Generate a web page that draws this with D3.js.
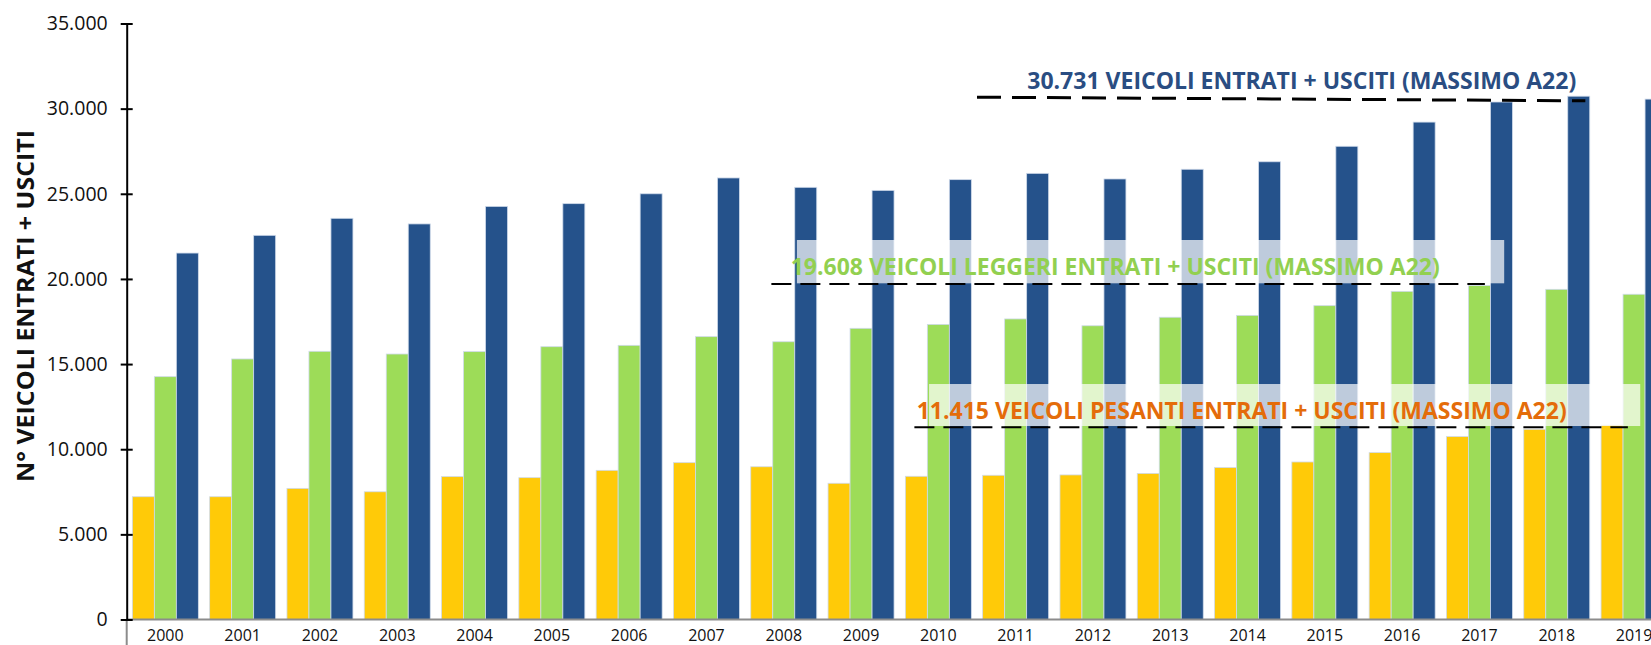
<!DOCTYPE html>
<html>
<head>
<meta charset="utf-8">
<script src="https://cdn.jsdelivr.net/npm/d3@7"></script>
<style>
  body { margin: 0; background: #fff; }
  svg { display: block; font-family: "Open Sans", "Liberation Sans", sans-serif; }
</style>
</head>
<body>
<svg id="chart"></svg>
<script>
// ---- data ----
var years = ["2000","2001","2002","2003","2004","2005","2006","2007","2008","2009",
             "2010","2011","2012","2013","2014","2015","2016","2017","2018","2019"];
var pesanti = [7210, 7210, 7700, 7500, 8390, 8330, 8760, 9210, 8970, 8000,
               8410, 8470, 8490, 8580, 8920, 9250, 9800, 10740, 11170, 11415];
var leggeri = [14260, 15300, 15750, 15590, 15730, 16020, 16100, 16610, 16310, 17100,
               17330, 17650, 17250, 17750, 17860, 18430, 19270, 19608, 19390, 19100];
var totali  = [21520, 22560, 23560, 23230, 24260, 24420, 25000, 25930, 25380, 25200,
               25830, 26200, 25870, 26440, 26880, 27790, 29210, 30390, 30731, 30560];
var yTicks = [0, 5000, 10000, 15000, 20000, 25000, 30000, 35000];
var maxValues = [30731, 19608, 11415];
var maxLabels = ["30.731 VEICOLI ENTRATI + USCITI (MASSIMO A22)",
                 "19.608 VEICOLI LEGGERI ENTRATI + USCITI (MASSIMO A22)",
                 "11.415 VEICOLI PESANTI ENTRATI + USCITI (MASSIMO A22)"];
var yTitle = "N° VEICOLI ENTRATI + USCITI";

var keys = ["pesanti", "leggeri", "totali"];
var colors = {pesanti: "#ffca08", leggeri: "#9ddc58", totali: "#25528b"};

var rows = years.map(function(yr, i) {
  return {year: yr, pesanti: pesanti[i], leggeri: leggeri[i], totali: totali[i]};
});

// ---- canvas + scales ----
var W = 1651, H = 645;
var x0 = 126.7, step = 77.3;

var svg = d3.select("#chart").attr("width", W).attr("height", H);

var x = d3.scaleBand().domain(years)
    .range([x0, x0 + step * years.length])
    .paddingInner(0).paddingOuter(0);
var xSub = d3.scaleBand().domain(keys)
    .range([0, x.bandwidth()])
    .paddingInner(0).paddingOuter(0.257);
var y = d3.scaleLinear().domain([0, 35000]).range([619.5, 23.5]);

// band units -> pixels (for annotation placement)
var bx = function(u) { return x.range()[0] + u * x.step(); };

var it = d3.formatLocale({decimal: ",", thousands: ".", grouping: [3], currency: ["€", ""]});
var fmt = it.format(",d");

// ---- bars ----
svg.append("g").selectAll("g")
  .data(rows)
  .join("g")
    .attr("transform", d => "translate(" + x(d.year) + ",0)")
  .selectAll("rect")
  .data(d => keys.map(k => ({key: k, value: d[k]})))
  .join("rect")
    .attr("x", d => xSub(d.key))
    .attr("width", xSub.bandwidth())
    .attr("y", d => y(d.value))
    .attr("height", d => y(0) - y(d.value))
    .attr("fill", d => colors[d.key])
    .attr("stroke", "#cfdaea")
    .attr("stroke-width", 0.8);

// ---- x axis (grey base line + labels) ----
svg.append("line")
    .attr("x1", x0).attr("x2", W)
    .attr("y1", y(0)).attr("y2", y(0))
    .attr("stroke", "#8c8c8c").attr("stroke-width", 2);
svg.append("line")
    .attr("x1", x0).attr("x2", x0)
    .attr("y1", y(0)).attr("y2", H)
    .attr("stroke", "#8c8c8c").attr("stroke-width", 2);

svg.append("g").selectAll("text")
  .data(years)
  .join("text")
    .attr("x", d => x(d) + x.bandwidth() / 2)
    .attr("y", 641)
    .attr("text-anchor", "middle")
    .attr("font-size", "16px")
    .attr("fill", "#111")
    .text(d => d);

// ---- y axis ----
var yAxis = svg.append("g")
    .attr("transform", "translate(" + x0 + ",0)")
    .call(d3.axisLeft(y).tickValues(yTicks).tickFormat(fmt).tickSizeOuter(0).tickPadding(13));
yAxis.select(".domain").attr("stroke", "#000").attr("stroke-width", 2);
yAxis.selectAll(".tick line").attr("x1", -6).attr("x2", 6)
    .attr("stroke", "#000").attr("stroke-width", 2);
yAxis.selectAll(".tick text")
    .attr("font-family", "Open Sans, sans-serif")
    .attr("font-size", "19.5px")
    .attr("fill", "#111");

svg.append("text")
    .attr("transform", "translate(33.5," + 306 + ") rotate(-90)")
    .attr("text-anchor", "middle")
    .attr("font-size", "23.5px")
    .attr("font-weight", "bold")
    .attr("fill", "#111")
    .attr("textLength", 352)
    .attr("lengthAdjust", "spacingAndGlyphs")
    .text(yTitle);

// ---- max annotations ----
// from/to/textX/box in band units, offsets in px from y(value)
var annoLayout = [
  {from: 11.0, to: 18.87, dy1: 1, dy2: 4.6, textX: 11.65, textDy: -7.6, textW: 549,
   box: null, color: "#2a4d82", lineW: 3, dash: "24,11"},
  {from: 8.34, to: 17.57, dy1: -1.6, dy2: -1.6, textX: 8.59, textDy: -11, textW: 649,
   box: [8.67, 17.82, -45.6, -2.3], color: "#92d050", lineW: 2, dash: "20,9"},
  {from: 10.19, to: 19.42, dy1: 2.2, dy2: 2.2, textX: 10.22, textDy: -5.8, textW: 650,
   box: [10.38, 19.58, -41.1, 0.9], color: "#e46c0a", lineW: 2, dash: "20,9"}
];

var anno = svg.append("g").attr("class", "annotations");
annoLayout.forEach(function(a, i) {
  var yv = y(maxValues[i]);
  if (a.box) {
    anno.append("rect")
        .attr("x", bx(a.box[0]))
        .attr("width", bx(a.box[1]) - bx(a.box[0]))
        .attr("y", yv + a.box[2])
        .attr("height", a.box[3] - a.box[2])
        .attr("fill", "#fff")
        .attr("fill-opacity", 0.7);
  }
  anno.append("line")
      .attr("x1", bx(a.from)).attr("x2", bx(a.to))
      .attr("y1", yv + a.dy1).attr("y2", yv + a.dy2)
      .attr("stroke", "#000")
      .attr("stroke-width", a.lineW)
      .attr("stroke-dasharray", a.dash);
  anno.append("text")
      .attr("x", bx(a.textX))
      .attr("y", yv + a.textDy)
      .attr("font-size", "24px")
      .attr("font-weight", "bold")
      .attr("fill", a.color)
      .attr("textLength", a.textW)
      .attr("lengthAdjust", "spacingAndGlyphs")
      .text(maxLabels[i]);
});
</script>
</body>
</html>
